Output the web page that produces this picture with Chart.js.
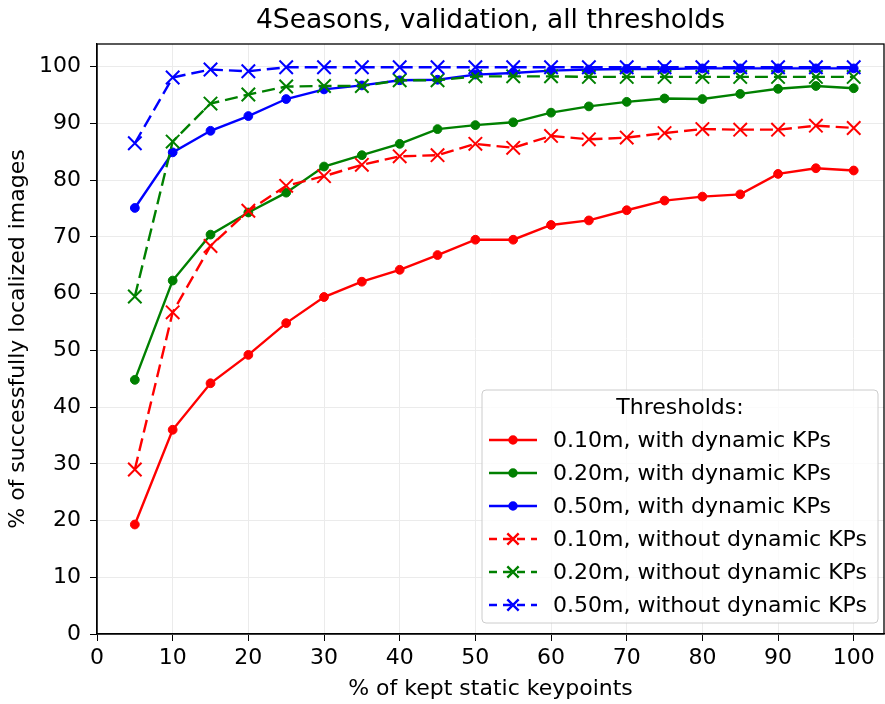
<!DOCTYPE html>
<html>
<head>
<meta charset="utf-8">
<script src="https://cdn.jsdelivr.net/npm/chart.js@4/dist/chart.umd.min.js"></script>
<style>
html,body{margin:0;padding:0;background:#fff}
#wrap{width:885px;height:704px;position:relative}
</style>
</head>
<body>
<div id="wrap"><canvas id="chart"></canvas></div>
<script>
// % of kept static keypoints
const kept=[5,10,15,20,25,30,35,40,45,50,55,60,65,70,75,80,85,90,95,100];
// with dynamic keypoints
const withDyn010=[19.3,36.0,44.2,49.2,54.8,59.4,62.1,64.2,66.8,69.5,69.5,72.1,72.9,74.7,76.4,77.1,77.5,81.1,82.1,81.7];
const withDyn020=[44.8,62.3,70.4,74.3,77.8,82.4,84.4,86.4,89.0,89.7,90.2,91.9,93.0,93.8,94.4,94.3,95.2,96.1,96.6,96.2];
const withDyn050=[75.1,84.9,88.7,91.3,94.3,96.0,96.7,97.6,97.7,98.6,98.9,99.3,99.5,99.6,99.6,99.7,99.7,99.7,99.7,99.7];
// without dynamic keypoints
const noDyn010=[29.0,56.7,68.4,74.6,79.0,80.7,82.7,84.2,84.4,86.4,85.7,87.8,87.2,87.5,88.3,89.0,88.9,88.9,89.6,89.2];
const noDyn020=[59.5,86.8,93.5,95.1,96.5,96.6,96.6,97.6,97.6,98.3,98.3,98.3,98.2,98.2,98.2,98.2,98.2,98.2,98.2,98.2];
const noDyn050=[86.5,98.1,99.5,99.2,99.9,99.9,99.9,99.9,99.9,99.9,99.9,99.9,99.9,99.9,99.9,99.9,99.9,99.9,99.9,99.9];

const labels=["0.10m, with dynamic KPs","0.20m, with dynamic KPs","0.50m, with dynamic KPs",
  "0.10m, without dynamic KPs","0.20m, without dynamic KPs","0.50m, without dynamic KPs"];
const series=[withDyn010,withDyn020,withDyn050,noDyn010,noDyn020,noDyn050];
const colors=["#ff0000","#008000","#0000ff","#ff0000","#008000","#0000ff"];
const xTicks=[0,10,20,30,40,50,60,70,80,90,100];
const yTicks=[0,10,20,30,40,50,60,70,80,90,100];

const FONT="'DejaVu Sans', sans-serif";
const DASH=[13,6];

const datasets=series.map((vals,i)=>{
  const dashed=i>=3;
  return {
    label:labels[i],
    data:vals.map((v,j)=>({x:kept[j],y:v})),
    borderColor:colors[i],
    backgroundColor:colors[i],
    borderWidth:2.4,
    borderDash:dashed?DASH:[],
    pointStyle:dashed?'crossRot':'circle',
    pointRadius:dashed?9.5:4.4,
    pointBorderWidth:dashed?2:1,
    pointBorderColor:colors[i],
    pointBackgroundColor:colors[i],
    tension:0,
    order:5-i
  };
});

// frame, titles and legend box drawn on top of the chart
const decor={
  id:'decor',
  afterDraw(chart){
    const {ctx,chartArea:a}=chart;
    ctx.save();
    ctx.strokeStyle='#000'; ctx.lineWidth=1.3;
    ctx.strokeRect(a.left,a.top,a.right-a.left,a.bottom-a.top);

    ctx.fillStyle='#000'; ctx.textAlign='center'; ctx.textBaseline='middle';
    ctx.font='26.5px '+FONT;
    ctx.fillText('4Seasons, validation, all thresholds',(a.left+a.right)/2,21);
    ctx.font='22px '+FONT;
    ctx.fillText('% of kept static keypoints',(a.left+a.right)/2,689);
    ctx.save();
    ctx.translate(18,(a.top+a.bottom)/2); ctx.rotate(-Math.PI/2);
    ctx.fillText('% of successfully localized images',0,0);
    ctx.restore();

    // legend
    const w=396,h=233,x=a.right-6-w,y=a.bottom-11-h;
    ctx.beginPath(); ctx.roundRect(x,y,w,h,4);
    ctx.fillStyle='rgba(255,255,255,0.8)'; ctx.fill();
    ctx.strokeStyle='#cccccc'; ctx.lineWidth=1; ctx.stroke();
    ctx.fillStyle='#000'; ctx.font='22px '+FONT;
    ctx.fillText('Thresholds:',x+w/2,y+18);
    ctx.textAlign='left';
    chart.data.datasets.forEach((ds,i)=>{
      const ry=y+50+i*33;
      ctx.save();
      ctx.strokeStyle=ds.borderColor; ctx.lineWidth=ds.borderWidth;
      ctx.setLineDash(ds.borderDash.length?[8,6]:[]);
      ctx.beginPath(); ctx.moveTo(x+7,ry); ctx.lineTo(x+55,ry); ctx.stroke();
      ctx.setLineDash([]);
      ctx.fillStyle=ds.borderColor;
      Chart.helpers.drawPoint(ctx,{pointStyle:ds.pointStyle,radius:ds.pointStyle==='circle'?3.5:8,rotation:0,borderWidth:ds.pointBorderWidth},x+31,ry);
      ctx.restore();
      ctx.fillText(ds.label,x+71,ry+1);
    });
    ctx.restore();
  }
};

new Chart(document.getElementById('chart'),{
  type:'line',
  data:{datasets},
  options:{
    responsive:true,
    maintainAspectRatio:false,
    devicePixelRatio:1,
    animation:false,
    layout:{autoPadding:false,padding:{top:44,right:1,left:0,bottom:0}},
    plugins:{legend:{display:false},title:{display:false},tooltip:{enabled:false}},
    scales:{
      x:{
        type:'linear',min:0,max:104,
        afterFit(s){s.height=70;s.paddingLeft=0;s.paddingRight=0;},
        afterBuildTicks(s){s.ticks=xTicks.map(v=>({value:v}));},
        ticks:{font:{family:FONT,size:22},color:'#000',padding:4,maxRotation:0,autoSkip:false},
        grid:{color:'#ebebeb',lineWidth:1,tickColor:'#000',tickLength:7},
        border:{color:'#000',width:1.3}
      },
      y:{
        type:'linear',min:0,max:104,
        afterFit(s){s.width=97;s.paddingTop=0;s.paddingBottom=0;},
        afterBuildTicks(s){s.ticks=yTicks.map(v=>({value:v}));},
        ticks:{font:{family:FONT,size:22},color:'#000',padding:9,autoSkip:false},
        grid:{color:'#ebebeb',lineWidth:1,tickColor:'#000',tickLength:7},
        border:{color:'#000',width:1.3}
      }
    }
  },
  plugins:[decor]
});
</script>
</body>
</html>
